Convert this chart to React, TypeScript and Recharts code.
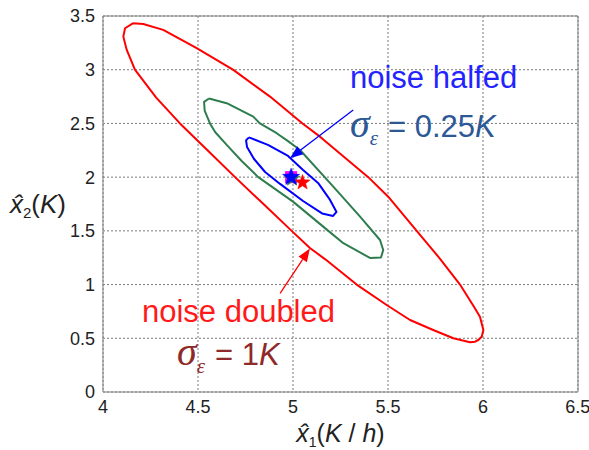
import React from 'react';
import {
    ComposedChart, Line, Scatter, XAxis, YAxis, CartesianGrid,
    ReferenceLine, ReferenceDot, Label,
} from 'recharts';

// ellipse outlines, as [x1, x2] pairs (closed)
const redEllipse: [number, number][] = [
    [4.159, 3.433], [4.212, 3.426], [4.317, 3.371], [4.493, 3.2], [4.686, 2.998], [4.879, 2.75],
    [5.05, 2.5], [5.142, 2.377], [5.396, 2.0], [5.5, 1.82], [5.651, 1.5], [5.774, 1.24],
    [5.879, 1.0], [5.95, 0.8], [5.984, 0.7], [6.002, 0.577], [5.993, 0.515], [5.975, 0.484],
    [5.958, 0.468], [5.932, 0.463],
    [5.844, 0.5], [5.738, 0.577], [5.616, 0.67], [5.493, 0.81], [5.335, 1.0],
    [5.17, 1.235], [5.089, 1.34], [4.993, 1.5], [4.85, 1.74], [4.695, 2.0], [4.55, 2.25],
    [4.405, 2.5], [4.28, 2.74], [4.168, 3.0], [4.125, 3.184], [4.107, 3.308],
    [4.116, 3.386], [4.159, 3.433],
];

const greenEllipse: [number, number][] = [
    [4.558, 2.732], [4.651, 2.688], [4.791, 2.563], [4.826, 2.5], [4.914, 2.409], [4.97, 2.34],
    [5.037, 2.253], [5.212, 1.912], [5.353, 1.632], [5.458, 1.415], [5.475, 1.322], [5.463, 1.252],
    [5.405, 1.248], [5.265, 1.385], [5.186, 1.5], [5.0, 1.772], [4.817, 2.0], [4.73, 2.15],
    [4.651, 2.3], [4.59, 2.42], [4.563, 2.5], [4.535, 2.62], [4.532, 2.7], [4.558, 2.732],
];

const blueEllipse: [number, number][] = [
    [4.768, 2.37], [4.868, 2.3], [4.974, 2.197], [5.053, 2.067], [5.132, 1.946],
    [5.195, 1.788], [5.229, 1.676], [5.211, 1.639], [5.153, 1.662], [5.053, 1.778],
    [4.932, 1.937], [4.853, 2.048], [4.795, 2.169], [4.758, 2.281], [4.753, 2.342],
    [4.768, 2.37],
];

// estimates (stars) and true value (square)
const trueValue = [{ x: 4.99, y: 2.0 }];
const greenEstimate = [{ x: 4.995, y: 1.985 }];
const blueEstimate = [{ x: 4.99, y: 2.0 }];
const redEstimate = [{ x: 5.05, y: 1.95 }];

// arrows: [from, to]
const blueArrow = [{ x: 5.317, y: 2.626 }, { x: 4.984, y: 2.176 }];
const redArrow = [{ x: 4.932, y: 0.919 }, { x: 5.089, y: 1.335 }];

const xTicks = [4, 4.5, 5, 5.5, 6, 6.5];
const yTicks = [0, 0.5, 1, 1.5, 2, 2.5, 3, 3.5];

const FONT = '"Liberation Sans", Arial, sans-serif';
const SERIF = '"Liberation Serif", "Times New Roman", serif';

const toPts = (arr: [number, number][]) => arr.map(([x, y]) => ({ x, y }));

const starPoints = (cx: number, cy: number, r: number) => {
    const pts: string[] = [];
    for (let i = 0; i < 10; i++) {
        const rr = i % 2 === 0 ? r : r * 0.42;
        const a = -Math.PI / 2 + (i * Math.PI) / 5;
        pts.push(`${cx + rr * Math.cos(a)},${cy + rr * Math.sin(a)}`);
    }
    return pts.join(' ');
};

const starShape = (color: string, r: number) => (p: any) => (
    <polygon points={starPoints(p.cx, p.cy, r)} fill={color} stroke={color} strokeWidth={0.5} />
);

const squareShape = (p: any) => (
    <rect x={p.cx - 6} y={p.cy - 6} width={12} height={12} fill="#ff00ff" />
);

const arrowShape = (color: string) => (p: any) => {
    const { x1, y1, x2, y2 } = p;
    const dx = x2 - x1, dy = y2 - y1;
    const len = Math.sqrt(dx * dx + dy * dy);
    const ux = dx / len, uy = dy / len;
    const hl = 13, hw = 5;
    const bx = x2 - ux * hl, by = y2 - uy * hl;
    return (
        <g>
            <line x1={x1} y1={y1} x2={bx} y2={by} stroke={color} strokeWidth={1.3} />
            <polygon
                points={`${x2},${y2} ${bx - uy * hw},${by + ux * hw} ${bx + uy * hw},${by - ux * hw}`}
                fill={color}
            />
        </g>
    );
};

const textAt = (content: React.ReactNode) => (p: any) => (
    <text x={p.cx} y={p.cy} fontFamily={FONT} fontSize={31}>{content}</text>
);

const sigmaText = (value: string, color: string) => (
    <>
        <tspan fill={color} fontFamily={SERIF} fontStyle="italic" fontSize={40}>σ</tspan>
        <tspan fill={color} fontFamily={SERIF} fontStyle="italic" fontSize={21} dy={8}>ε</tspan>
        <tspan fill={color} dy={-8} dx={10}>= {value}</tspan>
        <tspan fill={color} fontStyle="italic">K</tspan>
    </>
);

export default function App() {
    return (
        <div style={{ position: 'absolute', left: 0, top: 0, background: '#fff' }}>
            <ComposedChart width={589} height={450} margin={{ top: 16, right: 11, bottom: 0, left: 0 }}>
                <CartesianGrid stroke="#7a7a7a" strokeDasharray="2 2" />
                <XAxis
                    dataKey="x"
                    type="number"
                    domain={[4, 6.5]}
                    ticks={xTicks}
                    allowDataOverflow
                    height={58}
                    tickLine={false}
                    axisLine={{ stroke: '#808080' }}
                    tick={{ fill: '#222', fontSize: 18, fontFamily: FONT }}
                >
                    <Label
                        content={(p: any) => {
                            const vb = p.viewBox;
                            return (
                                <text x={vb.x + vb.width / 2} y={442} textAnchor="middle" fontFamily={FONT} fontSize={25} fill="#222">
                                    <tspan fontStyle="italic">x̂</tspan>
                                    <tspan fontSize={14} dy={5}>1</tspan>
                                    <tspan dy={-5}>(</tspan>
                                    <tspan fontStyle="italic">K</tspan>
                                    <tspan> / </tspan>
                                    <tspan fontStyle="italic">h</tspan>
                                    <tspan>)</tspan>
                                </text>
                            );
                        }}
                    />
                </XAxis>
                <YAxis
                    dataKey="y"
                    type="number"
                    domain={[0, 3.5]}
                    ticks={yTicks}
                    allowDataOverflow
                    width={103}
                    tickLine={false}
                    axisLine={{ stroke: '#808080' }}
                    tick={{ fill: '#222', fontSize: 18, fontFamily: FONT }}
                >
                    <Label
                        content={() => (
                            <text x={10} y={213} fontFamily={FONT} fontSize={26} fill="#222">
                                <tspan fontStyle="italic">x̂</tspan>
                                <tspan fontSize={15} dy={5}>2</tspan>
                                <tspan dy={-5}>(</tspan>
                                <tspan fontStyle="italic">K</tspan>
                                <tspan>)</tspan>
                            </text>
                        )}
                    />
                </YAxis>
                <ReferenceLine y={3.5} stroke="#808080" />
                <ReferenceLine x={6.5} stroke="#808080" />

                <Line data={toPts(redEllipse)} dataKey="y" type="linear" stroke="#ff0000" strokeWidth={2} strokeLinejoin="round" dot={false} isAnimationActive={false} />
                <Line data={toPts(greenEllipse)} dataKey="y" type="linear" stroke="#2e7d4f" strokeWidth={2} strokeLinejoin="round" dot={false} isAnimationActive={false} />
                <Line data={toPts(blueEllipse)} dataKey="y" type="linear" stroke="#0000ff" strokeWidth={2} strokeLinejoin="round" dot={false} isAnimationActive={false} />

                <Scatter data={trueValue} dataKey="y" shape={squareShape} isAnimationActive={false} />
                <Scatter data={greenEstimate} dataKey="y" shape={starShape('#2e7d4f', 8)} isAnimationActive={false} />
                <Scatter data={blueEstimate} dataKey="y" shape={starShape('#0000ff', 9)} isAnimationActive={false} />
                <Scatter data={redEstimate} dataKey="y" shape={starShape('#ff0000', 8)} isAnimationActive={false} />

                <ReferenceLine segment={blueArrow} shape={arrowShape('#0000ff')} />
                <ReferenceLine segment={redArrow} shape={arrowShape('#ff0000')} />

                <ReferenceDot x={5.3} y={2.831} r={0} shape={textAt(<tspan fill="#2323ff">noise halfed</tspan>)} />
                <ReferenceDot x={5.3} y={2.374} r={0} shape={textAt(sigmaText('0.25', '#2c5896'))} />
                <ReferenceDot x={4.205} y={0.652} r={0} shape={textAt(<tspan fill="#ff1a1a">noise doubled</tspan>)} />
                <ReferenceDot x={4.389} y={0.251} r={0} shape={textAt(sigmaText('1', '#8e2a2a'))} />
            </ComposedChart>
        </div>
    );
}
